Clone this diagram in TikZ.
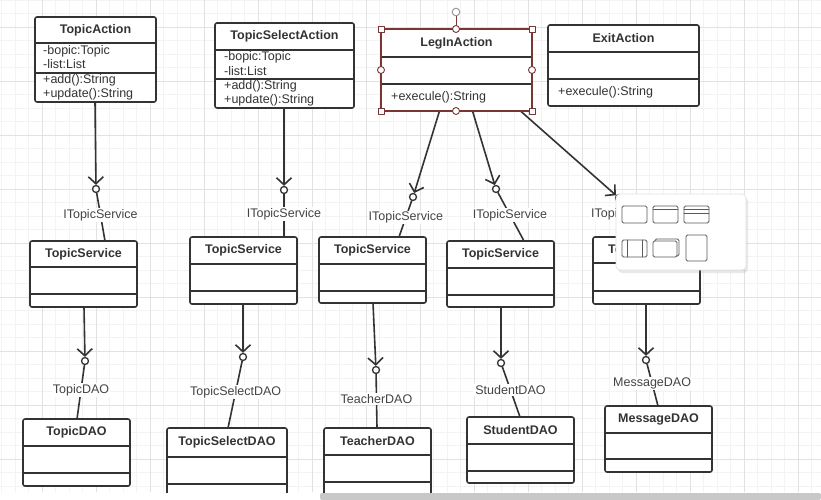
\documentclass[tikz,border=0pt]{standalone}
\usepackage{fontspec}
\setmainfont{Liberation Sans}
\usepackage{tikz}
\usetikzlibrary{arrows.meta,fit,shadows}

\definecolor{ink}{HTML}{333333}
\definecolor{labelink}{HTML}{444444}
\definecolor{gridminor}{HTML}{F3F3F3}
\definecolor{gridmajor}{HTML}{E2E2E2}
\definecolor{selred}{HTML}{7A3535}
\definecolor{iconink}{HTML}{5A5A5A}
\definecolor{scrollgray}{HTML}{C8C8C8}

\newcommand{\umlfont}{\fontsize{12.5}{14}\selectfont}
% name, x1, y1, x2, y2, first rule, second rule, title
\newcommand{\umlclass}[8]{%
  \node[classbox,fit={(#2,#3) (#4,#5)}] (#1) {};
  \draw[sepline] (#2,#6) -- (#4,#6);
  \draw[sepline] (#2,#7) -- (#4,#7);
  \node[classtitle] (#1-title) at ({(#2+#4)/2},{(#3+#6)/2}) {#8};
}

\begin{document}
\begin{tikzpicture}[line cap=round,line join=round,x=1pt,y=-1pt,
  classbox/.style={draw=ink,line width=1.6pt,fill=white,rounded corners=2pt,inner sep=0pt,outer sep=0pt},
  sepline/.style={draw=ink,line width=1.4pt},
  classtitle/.style={font=\umlfont\bfseries,text=ink,inner sep=0pt},
  member/.style={anchor=west,font=\umlfont,text=ink,inner sep=0pt},
  ball/.style={circle,draw=ink,fill=white,line width=1.3pt,minimum size=7pt,inner sep=0pt},
  dep/.style={draw=ink,line width=1.6pt,-{Straight Barb[length=7pt,width=15pt]}},
  link/.style={draw=ink,line width=1.6pt},
  lbl/.style={fill=white,text=labelink,font=\umlfont,inner sep=1pt,pos=0.46},
  handle/.style={draw=selred,fill=white,line width=0.9pt},
  icon/.style={draw=iconink,line width=0.8pt,rounded corners=1.5pt}]
\useasboundingbox (0,0) rectangle (821,500);
\begin{scope}
\clip (0,0) rectangle (821,492);
\foreach \x in {1.5,15,...,821} \draw[gridminor,line width=0.8pt] (\x,0) -- (\x,492);
\foreach \y in {0,13.5,...,492} \draw[gridminor,line width=0.8pt] (0,\y) -- (821,\y);
\foreach \x in {42,96,...,821} \draw[gridmajor,line width=0.8pt] (\x,0) -- (\x,492);
\foreach \y in {27,81,...,492} \draw[gridmajor,line width=0.8pt] (0,\y) -- (821,\y);

% actions
\umlclass{ta}{35}{17}{156}{102}{43}{73}{TopicAction}
\node[member] (ta-m1) at (43,51) {-bopic:Topic};
\node[member] (ta-m2) at (43,64) {-list:List};
\node[member] (ta-m3) at (43,80) {+add():String};
\node[member] (ta-m4) at (43,94) {+update():String};

\umlclass{tsa}{215}{23}{354}{108}{50}{79}{TopicSelectAction}
\node[member] (tsa-m1) at (224,57) {-bopic:Topic};
\node[member] (tsa-m2) at (224,71) {-list:List};
\node[member] (tsa-m3) at (224,86) {+add():String};
\node[member] (tsa-m4) at (224,100) {+update():String};

\umlclass{li}{381}{29}{532}{111}{57}{84}{LegInAction}
\node[member] (li-m1) at (391,97) {+execule():String};

\umlclass{ea}{548}{25}{699}{106}{52}{79}{ExitAction}
\node[member] (ea-m1) at (558,92) {+execule():String};

% services
\umlclass{ts1}{30}{241}{137}{307}{267}{294}{TopicService}
\umlclass{ts2}{190}{237}{297}{304}{264}{291}{TopicService}
\umlclass{ts3}{319}{237}{426}{303}{264}{291}{TopicService}
\umlclass{ts4}{447}{241}{554}{307}{268}{295}{TopicService}
\umlclass{ts5}{593}{237}{700}{304}{263}{291}{TopicService}

% daos
\umlclass{dao1}{23}{419}{130}{486}{446}{473}{TopicDAO}
\umlclass{dao2}{167}{428}{287}{520}{457}{484}{TopicSelectDAO}
\umlclass{dao3}{324}{428}{431}{520}{455}{482}{TeacherDAO}
\umlclass{dao4}{467}{417}{574}{483}{444}{471}{StudentDAO}
\umlclass{dao5}{605}{406}{712}{472}{433}{459}{MessageDAO}

% interface balls
\node[ball] (b1) at (96,189) {};
\node[ball] (b2) at (284,190) {};
\node[ball] (b3) at (413,197) {};
\node[ball] (b4) at (496,189) {};
\node[ball] (b5) at (619,198) {};
\node[ball] (b6) at (85,361) {};
\node[ball] (b7) at (243,357) {};
\node[ball] (b8) at (376,370) {};
\node[ball] (b9) at (501,363) {};
\node[ball] (b10) at (646,360) {};

\draw[dep] ([xshift=-0.5pt]ta.south) -- (b1);
\draw[dep] ([xshift=-0.5pt]tsa.south) -- (b2);
\draw[dep] ([xshift=-17pt]li.south) -- (b3);
\draw[dep] ([xshift=16pt]li.south) -- (b4);
\draw[dep] ([xshift=64pt]li.south) -- (b5);
\draw[dep] ([xshift=0.5pt]ts1.south) -- (b6);
\draw[dep] ([xshift=-0.5pt]ts2.south) -- (b7);
\draw[dep] ([xshift=0.5pt]ts3.south) -- (b8);
\draw[dep] ([xshift=0.5pt]ts4.south) -- (b9);
\draw[dep] ([xshift=-0.5pt]ts5.south) -- (b10);

\draw[link] (b1) -- node[lbl] {ITopicService} ([xshift=21.5pt]ts1.north);
\draw[link] (b2) -- node[lbl] {ITopicService} ([xshift=40.5pt]ts2.north);
\draw[link] (b3) -- node[lbl] {ITopicService} ([xshift=26.5pt]ts3.north);
\draw[link] (b4) -- node[lbl] {ITopicService} ([xshift=23.5pt]ts4.north);
\draw[link] (b5) -- node[lbl,pos=0.35] {ITopicService} ([xshift=-5pt]ts5.north);
\draw[link] (b6) -- node[lbl] {TopicDAO} ([xshift=0.5pt]dao1.north);
\draw[link] (b7) -- node[lbl] {TopicSelectDAO} ([xshift=1pt]dao2.north);
\draw[link] (b8) -- node[lbl] {TeacherDAO} ([xshift=-0.5pt]dao3.north);
\draw[link] (b9) -- node[lbl] {StudentDAO} ([xshift=-0.5pt]dao4.north);
\draw[link] (b10) -- node[lbl] {MessageDAO} ([xshift=-0.5pt]dao5.north);

% selection of LegInAction
\draw[selred,line width=1.6pt,rounded corners=0.5pt] (li.north west) rectangle (li.south east);
\draw[selred,line width=0.9pt] (456,16) -- (456,29);
\draw[draw=gray!80,fill=white,line width=1pt] (456,12) circle (3.8);
\foreach \hx/\hy in {381/29,532/29,381/111,532/111}
  \draw[handle] (\hx-3,\hy-3) rectangle (\hx+3,\hy+3);
\foreach \hx/\hy in {456/29,456/111,381/70,532/70}
  \draw[handle] (\hx,\hy) circle (3.5);

% shape menu
\draw[fill=white,draw=black!12,line width=0.6pt,rounded corners=4pt,
  drop shadow={shadow xshift=2pt,shadow yshift=-3pt,opacity=0.18}] (616,194) rectangle (746,270);
\draw[icon] (622,206) rectangle (647,223);
\draw[icon] (653,206) rectangle (678,223);
\draw[iconink,line width=0.8pt] (653,209.5) -- (678,209.5);
\draw[icon] (684,206) rectangle (709,223);
\draw[iconink,line width=0.8pt] (684,209.5) -- (709,209.5);
\draw[iconink,line width=0.8pt] (684,213) -- (709,213);
\draw[icon] (622,240) rectangle (647,257);
\draw[iconink,line width=0.8pt] (627,240) -- (627,257);
\draw[iconink,line width=0.8pt] (642,240) -- (642,257);
\draw[icon] (655,239) rectangle (679,256);
\draw[icon,fill=white] (653,241) rectangle (677,257);
\draw[icon] (686,235) rectangle (707,261);
\end{scope}

\fill[scrollgray,rounded corners=2pt] (320,493) rectangle (821,500);
\end{tikzpicture}
\end{document}
